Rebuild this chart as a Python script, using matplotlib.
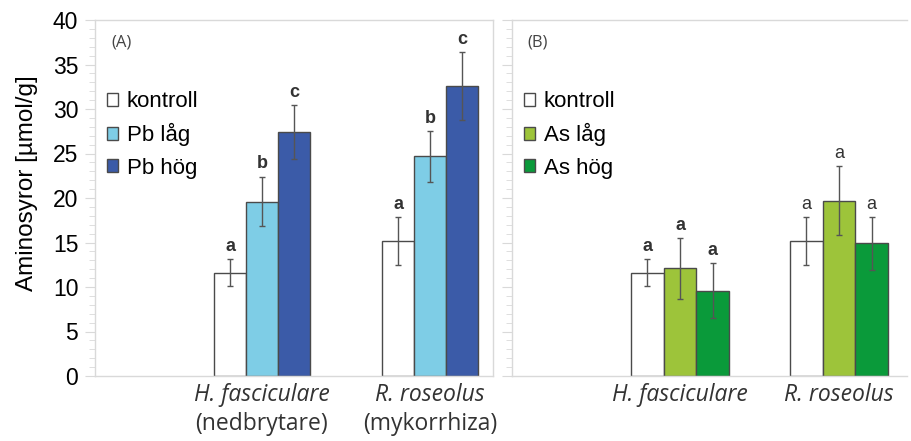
import numpy as np
import matplotlib
matplotlib.use("Agg")
import matplotlib.pyplot as plt
from matplotlib.ticker import MultipleLocator
from matplotlib.transforms import blended_transform_factory

# data
species = ["H. fasciculare", "R. roseolus"]
roles = ["(nedbrytare)", "(mykorrhiza)"]

pb_labels = ["kontroll", "Pb låg", "Pb hög"]
pb_means = [[11.6, 19.6, 27.4],
            [15.2, 24.7, 32.6]]
pb_err = [[1.5, 2.8, 3.0],
          [2.7, 2.85, 3.8]]
pb_letters = [["a", "b", "c"], ["a", "b", "c"]]

as_labels = ["kontroll", "As låg", "As hög"]
as_means = [[11.6, 12.1, 9.6],
            [15.2, 19.7, 14.9]]
as_err = [[1.5, 3.4, 3.1],
          [2.7, 3.9, 3.0]]
as_letters = [["a", "a", "a"], ["a", "a", "a"]]

pb_colors = ["white", "#7ecde6", "#3b5ba8"]
as_colors = ["white", "#9dc43a", "#0a9a3a"]

plt.rcParams['font.family'] = ['Liberation Sans', 'DejaVu Sans']

W, H = 911, 441
fig = plt.figure(figsize=(W / 100, H / 100), dpi=100)
ax1 = fig.add_axes([95 / W, (H - 376) / H, 398 / W, 356 / H])
ax2 = fig.add_axes([512 / W, (H - 376) / H, 395 / W, 356 / H])

spine_col = "#d9d9d9"
label_font = ["Open Sans", "DejaVu Sans"]


def draw_panel(ax, means, errs, letters, labels, colors, width, xlim, tag,
               bold_groups, show_roles):
    means = np.array(means)
    errs = np.array(errs)
    x = np.arange(len(species))
    handles = []
    for j in range(3):
        xs = x + (j - 1) * width
        b = ax.bar(xs, means[:, j], width, color=colors[j], edgecolor="#4a4a4a",
                   linewidth=1.0, label=labels[j], zorder=2)
        ax.errorbar(xs, means[:, j], yerr=errs[:, j], fmt="none",
                    ecolor="#555555", elinewidth=1.0, capsize=2, capthick=1.0,
                    zorder=3)
        handles.append(b)
        for i in range(len(species)):
            ax.annotate(letters[i][j], (xs[i], means[i, j] + errs[i, j]),
                        xytext=(0, 3), textcoords="offset points",
                        ha="center", va="bottom", fontsize=13,
                        fontweight="bold" if bold_groups[i] else "normal",
                        color="#333333")
    ax.set_xlim(*xlim)
    ax.set_ylim(0, 40)
    ax.yaxis.set_major_locator(MultipleLocator(5))
    ax.yaxis.set_minor_locator(MultipleLocator(1))
    ax.tick_params(axis="y", which="major", length=7, color=spine_col,
                   labelsize=16.5, pad=5)
    ax.tick_params(axis="y", which="minor", length=4, color=spine_col)
    ax.set_xticks(x)
    ax.set_xticklabels(species, fontsize=16.5, style="italic",
                       family=label_font, color="#333333")
    ax.tick_params(axis="x", length=0, pad=5)
    if show_roles:
        tr = blended_transform_factory(ax.transData, ax.transAxes)
        for i, r in enumerate(roles):
            ax.text(x[i], -0.153, r, transform=tr, ha="center",
                    va="baseline", fontsize=16.5, family=label_font,
                    color="#333333")
    for s in ax.spines.values():
        s.set_color(spine_col)
        s.set_linewidth(1.0)
    ax.text(0.04, 0.96, tag, transform=ax.transAxes, ha="left", va="top",
            fontsize=12, family=label_font, color="#444444")
    ax.legend(handles=handles, loc="upper left",
              bbox_to_anchor=(0.03, 0.80), frameon=False, fontsize=16,
              handlelength=0.5, handleheight=0.5, handletextpad=0.4,
              labelspacing=0.5, borderpad=0, borderaxespad=0)
    return ax


draw_panel(ax1, pb_means, pb_err, pb_letters, pb_labels, pb_colors, 0.19,
           (-0.994, 1.375), "(A)", [True, True], True)
draw_panel(ax2, as_means, as_err, as_letters, as_labels, as_colors, 0.205,
           (-1.057, 1.428), "(B)", [True, False], False)
ax2.set_yticklabels([])
ax2.spines["right"].set_visible(False)

ax1.set_ylabel("Aminosyror [µmol/g]", fontsize=17.5)
ax1.yaxis.set_label_coords(-0.143, 0.542)

fig.savefig("out.png", dpi=100)
